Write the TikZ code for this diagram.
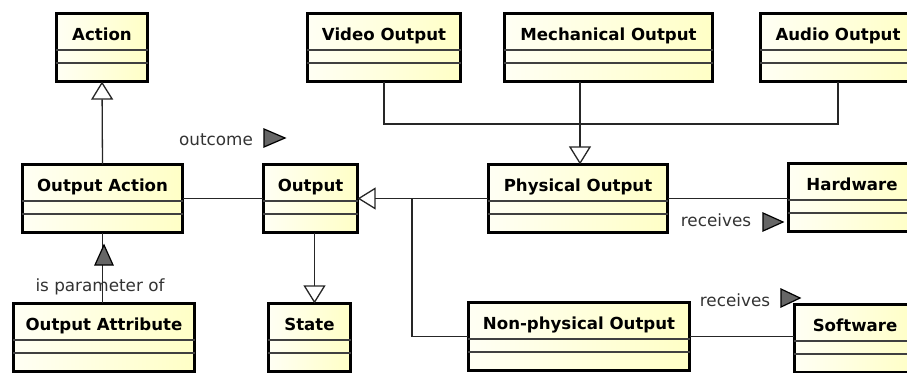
\documentclass[tikz,border=0pt]{standalone}
\usepackage{fontspec}
\setmainfont{DejaVu Sans}
\usetikzlibrary{arrows.meta}
\definecolor{boxL}{RGB}{255,255,244}
\definecolor{boxR}{RGB}{255,255,198}
\tikzset{
  classbox/.style={draw=black, line width=2.8pt, left color=boxL, right color=boxR,
    anchor=north west, outer sep=0pt, inner sep=0pt},
  sepline/.style={draw=black!75, line width=1.2pt},
  ctitle/.style={font=\fontsize{16.6}{20}\selectfont\bfseries, anchor=base, inner sep=0pt},
  assoc/.style={draw=black!85, line width=1.3pt},
  gen/.style={assoc, -{Triangle[open, length=18pt, width=22pt, fill=white]}},
  alabel/.style={font=\fontsize{16.8}{20}\selectfont, text=black!80, inner sep=0pt, anchor=base},
  dirmark/.style={fill=black!60, draw=black, line width=1.2pt, line join=miter},
}
% name, x1, y1, x2, y2 (outer edges, pixels), title
\newcommand\umlclass[6]{%
  \node[classbox, minimum width={(#4-#2-2.8)*1pt}, minimum height={(#5-#3-2.8)*1pt}]
    (#1) at ({#2+1.4},{#3+1.4}) {};
  \draw[sepline] ([yshift=-36.6pt]#1.north west) -- ([yshift=-36.6pt]#1.north east);
  \draw[sepline] ([yshift=-49.6pt]#1.north west) -- ([yshift=-49.6pt]#1.north east);
  \node[ctitle] (#1-t) at ([yshift=-27pt]#1.north) {#6};
}
\begin{document}
\begin{tikzpicture}[x=1pt, y=-1pt]
  \useasboundingbox (0,0) rectangle (907,372);
  \clip (0,0) rectangle (907,372);

  \umlclass{action}{55}{12}{149}{83}{Action}
  \umlclass{video}{306}{12}{462}{83}{Video Output}
  \umlclass{mech}{503}{12}{714}{83}{Mechanical Output}
  \umlclass{audio}{759}{12}{917}{83}{Audio Output}
  \umlclass{oa}{21}{163}{184}{234}{Output Action}
  \umlclass{output}{262}{163}{359}{234}{Output}
  \umlclass{phys}{487}{163}{669}{234}{Physical Output}
  \umlclass{hw}{787}{162}{917}{233}{Hardware}
  \umlclass{oattr}{12}{302}{196}{373}{Output Attribute}
  \umlclass{state}{267}{302}{352}{373}{State}
  \umlclass{np}{467}{301}{691}{372}{Non-physical Output}
  \umlclass{sw}{793}{303}{917}{374}{Software}

  % generalizations
  \draw[gen] (oa.north) -- (action.south);
  \draw[gen] ([xshift=4pt]output.south) -- ([xshift=4pt]output.south |- state.north);
  \draw[gen] (phys.west) -- (output.east);
  \coordinate (npbend) at (412,337);
  \draw[assoc] (np.west) -- (np.west -| npbend) -- (npbend |- output.east);
  \coordinate (pj) at (580,124);
  \draw[assoc] (video.south) |- (pj);
  \draw[assoc] (audio.south) |- (pj);
  \draw[gen] (mech.south -| pj) -- (phys.north -| pj);

  % associations
  \draw[assoc] (oa.east) -- (output.west);
  \draw[assoc] (oa.south) -- (oa.south |- oattr.north);
  \draw[assoc] (phys.east) -- (phys.east -| hw.west);
  \draw[assoc] (np.east) -- (np.east -| sw.west);

  % labels and direction markers
  \node[alabel] (l-outcome) at (216,145) {outcome};
  \filldraw[dirmark] (264,129) -- (285,138) -- (264,147) -- cycle;
  \node[alabel] (l-param) at (100,291) {is parameter of};
  \filldraw[dirmark] (95,265) -- (104,245) -- (113,265) -- cycle;
  \node[alabel] (l-recv1) at (716,226) {receives};
  \filldraw[dirmark] (763,213) -- (783,222) -- (763,231) -- cycle;
  \node[alabel] (l-recv2) at (735,306) {receives};
  \filldraw[dirmark] (781,289) -- (800,298) -- (781,307) -- cycle;
\end{tikzpicture}
\end{document}
